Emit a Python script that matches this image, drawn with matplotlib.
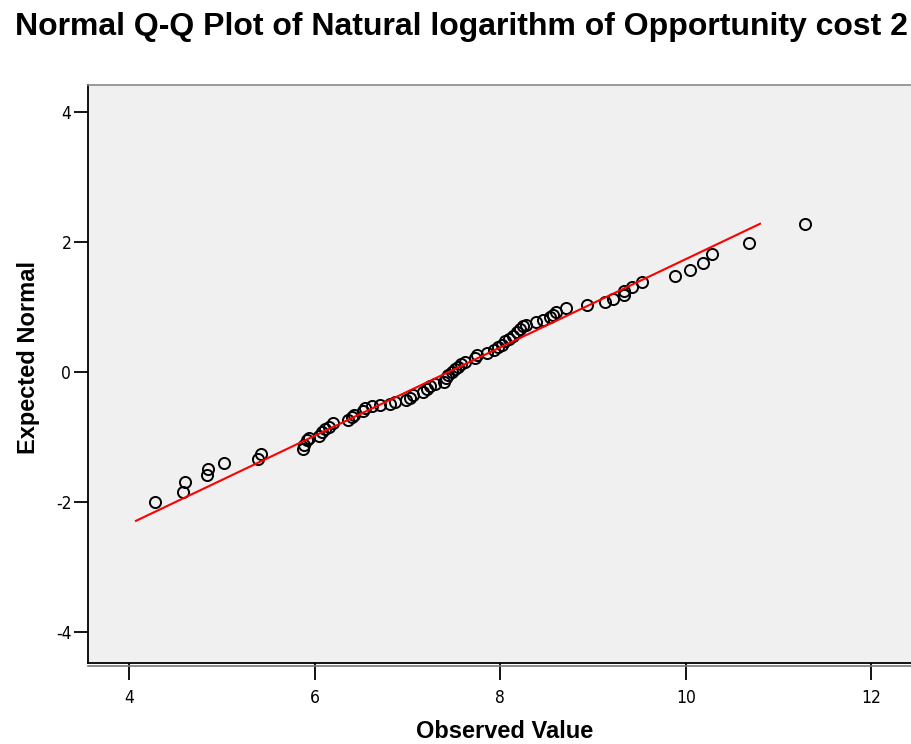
import matplotlib
matplotlib.use("Agg")
import matplotlib.pyplot as plt
from matplotlib.lines import Line2D

# Observed values (natural log of opportunity cost 2)
observed = [4.28, 4.585, 4.60, 4.845, 4.85, 5.02, 5.39, 5.42, 5.88, 5.885,
            5.92, 5.94, 6.05, 6.075, 6.11, 6.15, 6.20, 6.36, 6.40, 6.42,
            6.525, 6.54, 6.615, 6.70, 6.81, 6.87, 6.99, 7.03, 7.065, 7.17,
            7.21, 7.24, 7.30, 7.39, 7.42, 7.44, 7.48, 7.51, 7.55, 7.58,
            7.62, 7.73, 7.75, 7.86, 7.93, 7.98, 8.02, 8.05, 8.09, 8.14,
            8.18, 8.21, 8.25, 8.28, 8.39, 8.46, 8.54, 8.57, 8.60, 8.71,
            8.94, 9.13, 9.22, 9.33, 9.33, 9.42, 9.53, 9.88, 10.05, 10.19,
            10.28, 10.68, 11.28]
# Expected normal quantiles
expected = [-2.00, -1.84, -1.70, -1.585, -1.49, -1.405, -1.34, -1.26, -1.19, -1.12,
            -1.05, -1.02, -0.98, -0.92, -0.88, -0.84, -0.79, -0.74, -0.70, -0.66,
            -0.60, -0.56, -0.53, -0.51, -0.485, -0.455, -0.43, -0.40, -0.36, -0.31,
            -0.26, -0.21, -0.18, -0.15, -0.09, -0.04, 0.00, 0.04, 0.08, 0.12,
            0.16, 0.22, 0.26, 0.29, 0.34, 0.38, 0.42, 0.47, 0.51, 0.56,
            0.61, 0.66, 0.71, 0.73, 0.775, 0.80, 0.84, 0.88, 0.93, 0.98,
            1.03, 1.07, 1.12, 1.18, 1.25, 1.31, 1.38, 1.47, 1.57, 1.67,
            1.81, 1.99, 2.27]

# Reference line endpoints
fit_x = [4.075, 10.80]
fit_y = [-2.29, 2.28]

x_ticks = [4, 6, 8, 10, 12]
y_ticks = [-4, -2, 0, 2, 4]

fig = plt.figure(figsize=(9.11, 7.44), dpi=100)
ax = fig.add_axes([88/911, 81/744, 1 - 88/911, (663-85)/744])
ax.set_facecolor("#F0F0F0")

ax.plot(observed, expected, linestyle="none", marker="o", markersize=8,
        markerfacecolor="none", markeredgecolor="black", markeredgewidth=1.4, zorder=2)
ax.plot(fit_x, fit_y, color="red", linewidth=1.5, zorder=3)

ax.set_xlim(3.558, 12.427)
ax.set_ylim(-4.477, 4.415)
ax.set_xticks(x_ticks)
ax.set_yticks(y_ticks)
tick_font = dict(fontsize=12.5, family="DejaVu Sans", fontstretch="condensed")
ax.set_xticklabels([str(v) for v in x_ticks], **tick_font)
ax.set_yticklabels([str(v) for v in y_ticks], **tick_font)
ax.tick_params(axis="y", direction="out", length=10, width=1.3, pad=2)
ax.tick_params(axis="x", direction="out", length=12, width=1.3, pad=7)

ax.spines["right"].set_visible(False)
ax.spines["top"].set_color("#888888")
ax.spines["top"].set_linewidth(1.2)
ax.spines["left"].set_linewidth(1.3)
ax.spines["bottom"].set_linewidth(1.3)

# second (double) line below the x axis
ax.add_line(Line2D([0, 1], [-0.006, -0.006], transform=ax.transAxes,
                   color="#777777", linewidth=1.2, clip_on=False))

ax.set_xlabel("Observed Value", fontsize=17, fontweight="bold", family="Liberation Sans")
ax.set_ylabel("Expected Normal", fontsize=17, fontweight="bold", family="Liberation Sans")
# position labels (figure pixel coords -> axes coords)
ax.xaxis.set_label_coords((505 - 88) / (911 - 88), -(732 - 663) / (663 - 85))
ax.xaxis.label.set_va("center")
ax.yaxis.set_label_coords(-(88 - 28) / (911 - 88), (663 - 358) / (663 - 85))
ax.yaxis.label.set_va("center")

fig.text((18 + 905) / 2 / 911, 1 - 27/744, "Normal Q-Q Plot of Natural logarithm of Opportunity cost 2",
         ha="center", va="center", fontsize=23, fontweight="bold", family="Liberation Sans")

fig.savefig("out.png", dpi=100)
